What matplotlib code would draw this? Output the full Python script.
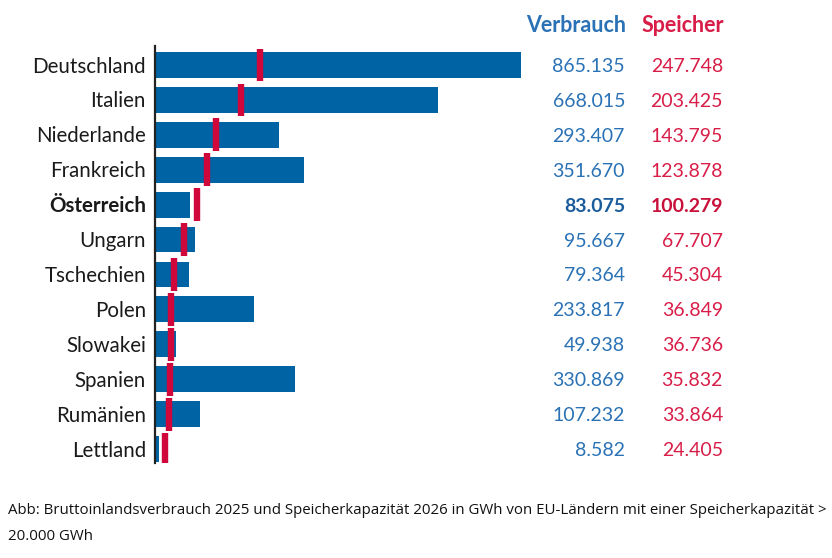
import numpy as np
import matplotlib.pyplot as plt
from matplotlib import transforms

laender = ["Deutschland", "Italien", "Niederlande", "Frankreich", "Österreich", "Ungarn",
           "Tschechien", "Polen", "Slowakei", "Spanien", "Rumänien", "Lettland"]
verbrauch = [865.135, 668.015, 293.407, 351.670, 83.075, 95.667,
             79.364, 233.817, 49.938, 330.869, 107.232, 8.582]
speicher = [247.748, 203.425, 143.795, 123.878, 100.279, 67.707,
            45.304, 36.849, 36.736, 35.832, 33.864, 24.405]
hervorheben = "Österreich"

blau = "#0063a3"
blau_text = "#2a72b5"
rot = "#d0073b"
rot_text = "#d81e48"

plt.rcParams['font.family'] = ['Lato', 'DejaVu Sans']

W, H = 832, 558
fig = plt.figure(figsize=(W / 100, H / 100), dpi=100)
ax = fig.add_axes([155 / W, (H - 463) / H, 368 / W, (463 - 46) / H])

y = np.arange(len(laender))
ax.barh(y, verbrauch, height=0.74, color=blau, zorder=2)
ax.errorbar(speicher, y, yerr=0.47, fmt="none", ecolor=rot, elinewidth=4.6, capsize=0, zorder=3)

ax.set_xlim(0, 870)
ax.set_ylim(11.4, -0.545)
for s in ["top", "right", "bottom"]:
    ax.spines[s].set_visible(False)
ax.spines["left"].set_linewidth(1.6)
ax.spines["left"].set_color("#222222")
ax.set_xticks([])
ax.set_yticks([])

tr = transforms.blended_transform_factory(fig.transFigure, ax.transData)
off = transforms.ScaledTranslation(0, -1.5 / 100, fig.dpi_scale_trans)

def fmt(v):
    return f"{v:.3f}"

for i, land in enumerate(laender):
    w = "bold" if land == hervorheben else "normal"
    ax.text(146 / W, i, land, transform=tr + off, ha="right", va="center",
            fontsize=14.8, color="#1a1a1a", fontweight=w, clip_on=False)
    ax.text(625 / W, i, fmt(verbrauch[i]), transform=tr + off, ha="right", va="center",
            fontsize=14.0, color=("#1b5c9c" if w == "bold" else blau_text), fontweight=w, clip_on=False)
    ax.text(723 / W, i, fmt(speicher[i]), transform=tr + off, ha="right", va="center",
            fontsize=14.0, color=("#c8103a" if w == "bold" else rot_text), fontweight=w, clip_on=False)

fig.text(626 / W, 1 - 25 / H, "Verbrauch", ha="right", va="center",
         fontsize=15.5, fontweight="bold", color=blau_text)
fig.text(724 / W, 1 - 25 / H, "Speicher", ha="right", va="center",
         fontsize=15.5, fontweight="bold", color=rot_text)

fig.text(8 / W, 1 - 511 / H,
         "Abb: Bruttoinlandsverbrauch 2025 und Speicherkapazität 2026 in GWh von EU-Ländern mit einer Speicherkapazität >",
         ha="left", va="center", fontsize=10.8, color="#111111", family=["Open Sans", "DejaVu Sans"])
fig.text(8 / W, 1 - 537 / H, "20.000 GWh",
         ha="left", va="center", fontsize=10.8, color="#111111", family=["Open Sans", "DejaVu Sans"])

fig.savefig("out.png", dpi=100)
